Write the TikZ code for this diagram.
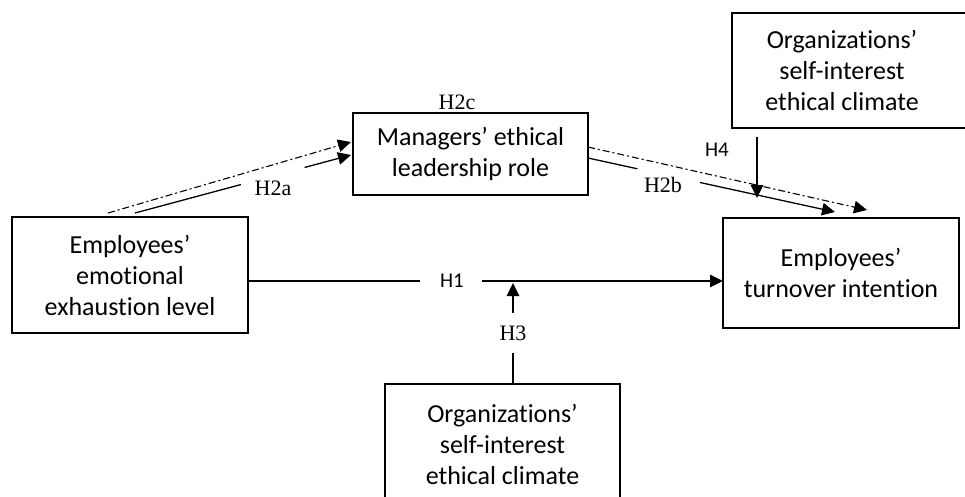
\documentclass[tikz,border=0pt]{standalone}
\usepackage{fontspec}
\setmainfont{Carlito}[Ligatures={NoCommon}]
\newfontfamily\labserif{Liberation Serif}
\usetikzlibrary{arrows.meta,calc}
\tikzset{
  box/.style={draw, line width=1.1pt, minimum width=236pt, align=center, inner sep=0pt,
    font=\fontsize{26}{31}\selectfont},
  boxtext/.style={align=center, inner sep=0pt, font=\fontsize{26}{31}\selectfont},
  solidarrow/.style={line width=1.3pt, -{Triangle[length=13pt,width=12.5pt]}},
  solidline/.style={line width=1.3pt},
  dasharrow/.style={line width=1.1pt, dash pattern=on 7pt off 3pt on 2pt off 3pt, -{Triangle[length=13pt,width=12.5pt]}},
  hsans/.style={inner sep=1pt, font=\fontsize{21}{24}\selectfont},
  hserif/.style={inner sep=1pt, font=\labserif\fontsize{22}{24}\selectfont},
}
\begin{document}
\begin{tikzpicture}[x=1pt,y=-1pt]
\clip (0,0) rectangle (965,496);
\fill[white] (0,0) rectangle (965,496);
% boxes
\node[box, minimum height=116pt] (emo) at (130,275) {Employees'\\emotional\\exhaustion level};
\node[box, minimum height=82pt, minimum width=235pt] (mgr) at (470.5,154) {Managers' ethical\\leadership role};
\node[box, minimum height=110pt] (turn) at (841,273) {Employees'\\turnover intention};
\draw[line width=1.1pt] (732,13) rectangle (975,128);
\node[boxtext] (org1) at (842,70) {Organizations'\\self-interest\\ethical climate};
\node[box, minimum height=121pt, minimum width=235pt] (org2) at (502.5,444.5) {Organizations'\\self-interest\\ethical climate};
% coordinates
\coordinate (h1s) at (248,281);
\coordinate (h1e) at (723,281);
\coordinate (ads) at (108,213);
\coordinate (ade) at (351,142);
\coordinate (as) at (135,213);
\coordinate (ae) at (351,155);
\coordinate (bds) at (588,147);
\coordinate (bde) at (867,210);
\coordinate (bs) at (588,158);
\coordinate (be) at (835,212);
\coordinate (h3s) at (513,384);
\coordinate (h3e) at (513,283);
\coordinate (h4s) at (757,137);
\coordinate (h4e) at (757,198);
% H1
\draw[solidline] (h1s) -- ($(h1s)!0.362!(h1e)$);
\draw[solidarrow] ($(h1s)!0.493!(h1e)$) -- (h1e);
\node[hsans] (lh1) at (452,281) {H1};
% H2a
\draw[dasharrow] (ads) -- (ade);
\draw[solidline] (as) -- ($(as)!0.49!(ae)$);
\draw[solidarrow] ($(as)!0.785!(ae)$) -- (ae);
\node[hserif] (lh2a) at (273,188) {H2a};
% H2b
\draw[dasharrow] (bds) -- (bde);
\draw[solidline] (bs) -- ($(bs)!0.2!(be)$);
\draw[solidarrow] ($(bs)!0.453!(be)$) -- (be);
\node[hserif] (lh2b) at (663,185) {H2b};
% H2c
\node[hserif] (lh2c) at (457,102) {H2c};
% H3
\draw[solidline] (h3s) -- ($(h3s)!0.307!(h3e)$);
\draw[solidarrow] ($(h3s)!0.703!(h3e)$) -- (h3e);
\node[hserif] (lh3) at (513,333) {H3};
% H4
\draw[solidarrow] (h4s) -- (h4e);
\node[hsans] (lh4) at (717,150) {H4};
\end{tikzpicture}
\end{document}
